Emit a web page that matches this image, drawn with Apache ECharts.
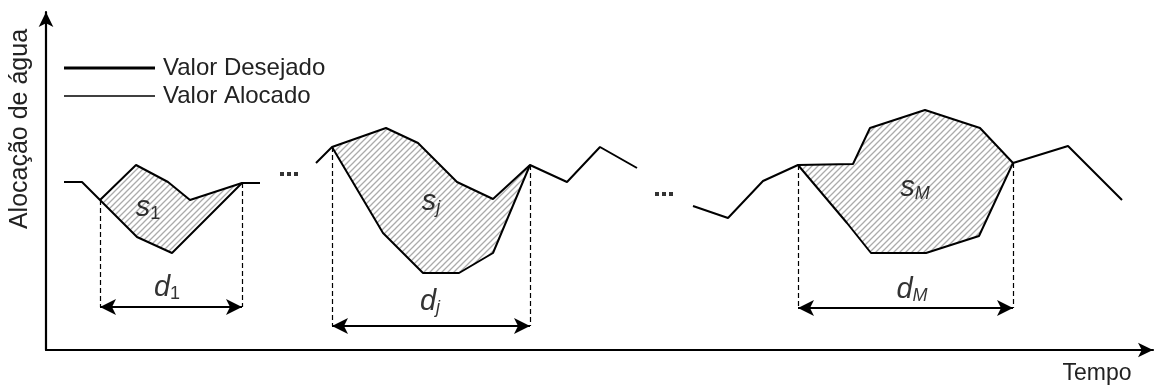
<!DOCTYPE html>
<html>
<head>
<meta charset="utf-8">
<script src="https://cdn.jsdelivr.net/npm/echarts@6/dist/echarts.min.js"></script>
<style>
  html, body { margin: 0; padding: 0; background: #fff; }
  #chart { width: 1157px; height: 388px; }
</style>
</head>
<body>
<div id="chart"></div>
<script>
// Curves: [tempo, alocação]
const desiredA = [[18, 168], [36, 168], [54, 150], [90, 185], [122, 168], [144, 150], [196, 167], [214, 167]];
const desiredB = [[270, 187], [286, 203], [340, 222], [372, 207], [411, 168], [447, 151], [484, 185], [521, 168], [554, 203], [591, 182]];
const desiredC = [[647, 144], [682, 132], [717, 169], [752, 185], [807, 186], [824, 222], [879, 240], [934, 222], [967, 187], [1022, 204], [1076, 150]];

const allocatedA = [[54, 150], [91, 113], [126, 97], [196, 167]];
const allocatedB = [[286, 203], [337, 117], [377, 77], [413, 77], [447, 97], [484, 185]];
const allocatedC = [[752, 185], [801, 127], [825, 97], [880, 97], [933, 114], [967, 187]];

const subscripts = ['1', 'j', 'M'];
const areaLabelPos = [[102, 142], [385, 148], [869, 162]];
const widthLabelPos = [[121, 62], [384, 48], [866, 60]];
const arrowLevel = [43, 24, 42];
const dots = [[236, 176], [243, 176], [250, 176], [611, 156], [618, 156], [625, 156]];

const desired = [desiredA, desiredB, desiredC];
const allocated = [allocatedA, allocatedB, allocatedC];

// diagonal hatch pattern for the shortage areas
function hatch() {
    const c = document.createElement('canvas');
    c.width = c.height = 6;
    const g = c.getContext('2d');
    g.strokeStyle = '#ababab';
    g.lineWidth = 1.3;
    g.beginPath();
    g.moveTo(0, 6); g.lineTo(6, 0);
    g.moveTo(-1, 1); g.lineTo(1, -1);
    g.moveTo(5, 7); g.lineTo(7, 5);
    g.stroke();
    return c;
}
const pattern = { image: hatch(), repeat: 'repeat' };

const series = [];

// hatched areas between desired and allocated
allocated.forEach((low, i) => {
    const x0 = low[0][0], x1 = low[low.length - 1][0];
    const up = desired[i].filter(p => p[0] >= x0 && p[0] <= x1);
    const poly = up.concat(low.slice().reverse());
    series.push({
        type: 'custom',
        silent: true,
        data: [0],
        z: 1,
        renderItem: (params, api) => ({
            type: 'polygon',
            shape: { points: poly.map(p => api.coord(p)) },
            style: { fill: pattern, stroke: null }
        })
    });
});

desired.forEach(d => series.push({
    name: 'Valor Desejado', type: 'line', data: d, symbol: 'none', z: 3,
    lineStyle: { color: '#000', width: 2 }, itemStyle: { color: '#000' }
}));
allocated.forEach(d => series.push({
    name: 'Valor Alocado', type: 'line', data: d, symbol: 'none', z: 3,
    lineStyle: { color: '#000', width: 2 }, itemStyle: { color: '#000' }
}));

// dashed guides and width arrows
allocated.forEach((low, i) => {
    const a = low[0], b = low[low.length - 1], y = arrowLevel[i];
    series.push({
        type: 'line', data: [], silent: true,
        markLine: {
            silent: true, symbol: 'none', label: { show: false },
            lineStyle: { color: '#000', width: 1.2, type: [5, 3] },
            data: [
                [{ coord: [a[0], a[1]] }, { coord: [a[0], y] }],
                [{ coord: [b[0], b[1]] }, { coord: [b[0], y] }]
            ]
        }
    });
    series.push({
        type: 'line', data: [], silent: true,
        markLine: {
            silent: true, symbol: ['arrow', 'arrow'], symbolSize: [12, 16],
            label: { show: false },
            lineStyle: { color: '#000', width: 1.8, type: 'solid' },
            data: [[{ coord: [a[0], y] }, { coord: [b[0], y] }]]
        }
    });
});

const rich = {
    m: { fontFamily: 'Liberation Sans', fontStyle: 'italic', fontSize: 29, color: '#000' },
    n: { fontFamily: 'Liberation Sans', fontSize: 18, color: '#000', padding: [12, 0, 0, 0] },
    ni: { fontFamily: 'Liberation Sans', fontStyle: 'italic', fontSize: 18, color: '#000', padding: [12, 0, 0, 0] }
};
const labelItems = [];
subscripts.forEach((s, i) => {
    const sub = s === '1' ? 'n' : 'ni';
    labelItems.push({ value: areaLabelPos[i], text: '{m|s}{' + sub + '|' + s + '}' });
    labelItems.push({ value: widthLabelPos[i], text: '{m|d}{' + sub + '|' + s + '}' });
});
series.push({
    type: 'scatter', symbolSize: 0, silent: true, z: 5,
    data: labelItems.map(l => ({ value: l.value, text: l.text })),
    label: {
        show: true, position: 'inside',
        formatter: p => p.data.text, rich: rich
    }
});

series.push({
    type: 'scatter', symbol: 'rect', symbolSize: 4, silent: true,
    itemStyle: { color: '#000' }, data: dots
});

const legendText = { fontFamily: 'Liberation Sans', fontSize: 24, color: '#222', padding: [0, 0, 0, 3] };

const chart = echarts.init(document.getElementById('chart'));
chart.setOption({
    animation: false,
    backgroundColor: '#fff',
    grid: { left: 46, right: 4, top: 12, bottom: 38 },
    legend: [
        {
            data: ['Valor Desejado'], left: 59, top: 51, icon: 'rect',
            itemWidth: 91, itemHeight: 3, itemGap: 0, selectedMode: false,
            textStyle: legendText
        },
        {
            data: ['Valor Alocado'], left: 59, top: 79, icon: 'rect',
            itemWidth: 91, itemHeight: 1.5, itemGap: 0, selectedMode: false,
            textStyle: legendText
        }
    ],
    xAxis: {
        type: 'value', min: 0, max: 1107,
        axisLine: { show: true, symbol: ['none', 'arrow'], symbolSize: [11, 15], lineStyle: { color: '#000', width: 2.2 } },
        axisTick: { show: false }, axisLabel: { show: false }, splitLine: { show: false }
    },
    yAxis: {
        type: 'value', min: 0, max: 338,
        axisLine: { show: true, symbol: ['none', 'arrow'], symbolSize: [11, 15], lineStyle: { color: '#000', width: 2.2 } },
        axisTick: { show: false }, axisLabel: { show: false }, splitLine: { show: false }
    },
    graphic: [
        {
            type: 'text', x: 20, y: 129, rotation: Math.PI / 2,
            style: { text: 'Alocação de água', fontFamily: 'Liberation Sans', fontSize: 25, fill: '#222', align: 'center', verticalAlign: 'middle' }
        },
        {
            type: 'text', x: 1097, y: 374,
            style: { text: 'Tempo', fontFamily: 'Liberation Sans', fontSize: 23, fill: '#222', align: 'center', verticalAlign: 'middle' }
        }
    ],
    series: series
});

window.addEventListener('resize', () => chart.resize());
</script>
</body>
</html>
